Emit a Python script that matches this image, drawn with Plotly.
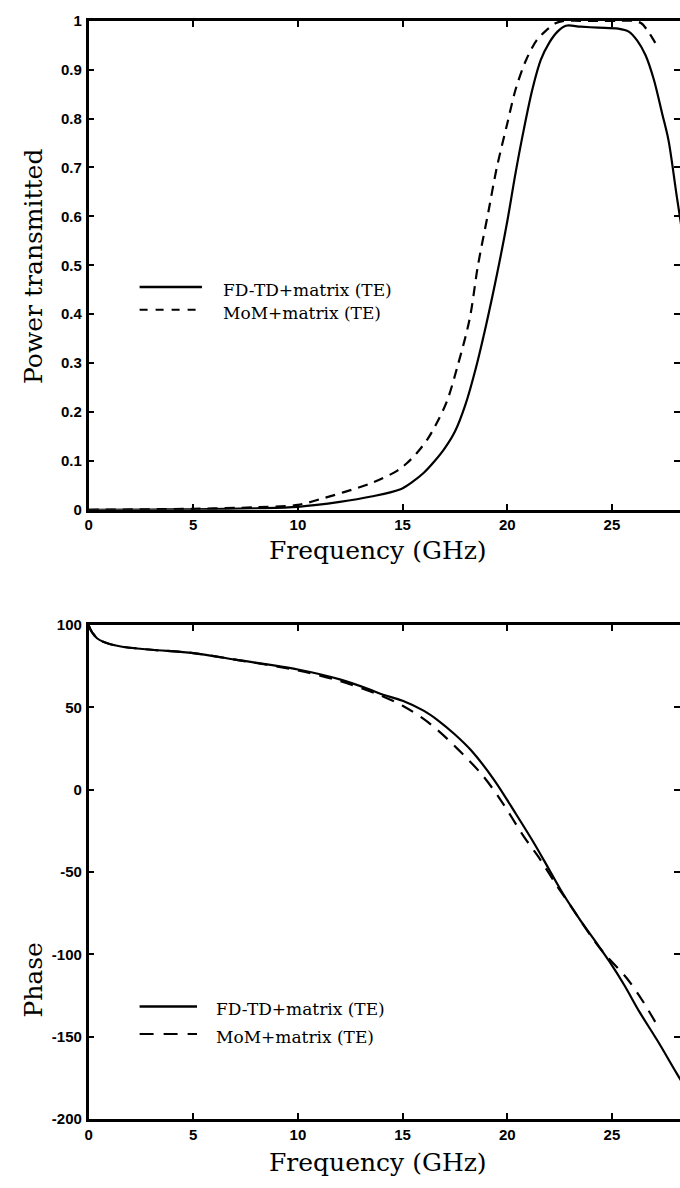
import plotly.graph_objects as go

# ---------------- data ----------------
# Top panel: power transmitted vs frequency (GHz)
fdtd_power_freq = [0, 3, 5, 8, 10, 12, 13.5, 14.9, 15.5, 16.0, 16.5, 17.0, 17.5, 18.0, 18.5,
                   19.0, 19.5, 20.0, 20.4, 20.8, 21.2, 21.6, 22.0, 22.4, 22.8, 23.5, 24.35,
                   25.3, 25.8, 26.2, 26.6, 27.0, 27.4, 27.7, 28.1, 28.6]
fdtd_power = [0, 0.0005, 0.001, 0.003, 0.006, 0.016, 0.027, 0.042, 0.058, 0.075, 0.098, 0.125,
              0.16, 0.215, 0.29, 0.38, 0.48, 0.59, 0.69, 0.78, 0.86, 0.92, 0.955, 0.978, 0.99,
              0.988, 0.986, 0.984, 0.978, 0.96, 0.93, 0.88, 0.81, 0.756, 0.64, 0.50]

mom_power_freq = [0, 5, 8, 10, 11.25, 12.2, 13.6, 14.75, 15.2, 15.7, 16.2, 16.6, 17.1, 17.6,
                  18.2, 18.6, 19.1, 19.5, 20.0, 20.4, 20.9, 21.4, 21.85, 22.3, 22.7, 23.5,
                  24.5, 25.3, 26.0, 26.4, 26.7, 27.0, 27.2]
mom_power = [0, 0.002, 0.005, 0.01, 0.024, 0.036, 0.056, 0.08, 0.095, 0.117, 0.145, 0.175,
             0.22, 0.29, 0.39, 0.50, 0.61, 0.70, 0.79, 0.86, 0.92, 0.96, 0.98, 0.995, 1.0,
             1.0, 1.0, 1.0, 1.0, 0.995, 0.98, 0.96, 0.945]

# Bottom panel: phase vs frequency (GHz)
fdtd_phase_freq = [0, 0.1, 0.2, 0.4, 0.7, 1.0, 1.6, 3, 5, 7, 10, 12, 13.4, 14, 15, 16, 16.7,
                   17.5, 18.3, 19.4, 20.4, 21.3, 22.0, 22.7, 23.5, 24.2, 24.9, 25.6, 26.3,
                   27.2, 28.1, 28.6]
fdtd_phase = [100, 97, 95, 92, 89.8, 88.5, 86.8, 85, 83, 79, 73, 67, 61, 58, 54, 48, 42,
              33.5, 23.5, 5.4, -14.5, -33, -48.5, -64, -79.5, -92, -104.8, -119, -134.7,
              -153, -172.5, -183]

mom_phase_freq = [0, 0.1, 0.2, 0.4, 0.7, 1.0, 1.6, 3, 5, 7, 10, 12, 13.4, 14, 15, 16, 16.7,
                  17.6, 18.8, 19.7, 20.8, 21.5, 22.3, 23.0, 24.0, 24.6, 25.7, 26.5, 27.2]
mom_phase = [100, 97, 95, 92, 89.8, 88.5, 86.8, 85, 83, 79, 72.5, 66, 60, 57, 51, 43, 35.9,
             25.1, 9, -6.6, -28.7, -41, -57, -70, -89, -99, -114.4, -129, -144]

power_ticks = [0, 0.1, 0.2, 0.3, 0.4, 0.5, 0.6, 0.7, 0.8, 0.9, 1]
power_ticktext = ["0", "0.1", "0.2", "0.3", "0.4", "0.5", "0.6", "0.7", "0.8", "0.9", "1"]
phase_ticks = [100, 50, 0, -50, -100, -150, -200]
phase_ticktext = ["100", "50", "0", "-50", "-100", "-150", "-200"]
freq_ticks = [0, 5, 10, 15, 20, 25]
freq_ticktext = ["0", "5", "10", "15", "20", "25"]

legend_labels = ["FD-TD+matrix (TE)", "MoM+matrix (TE)"]

# ---------------- figure ----------------
W, H = 683, 1188
fig = go.Figure()

LW = 2.2
DASH_TOP = "10px,7px"
DASH_BOT = "13px,9px"
SM = 0.9

fig.add_trace(go.Scatter(x=fdtd_power_freq, y=fdtd_power, mode="lines", line=dict(color="black", width=LW, shape="spline", smoothing=SM),
                         xaxis="x", yaxis="y", showlegend=False, name=legend_labels[0]))
fig.add_trace(go.Scatter(x=mom_power_freq, y=mom_power, mode="lines", line=dict(color="black", width=LW, dash=DASH_TOP, shape="spline", smoothing=SM),
                         xaxis="x", yaxis="y", showlegend=False, name=legend_labels[1]))
fig.add_trace(go.Scatter(x=fdtd_phase_freq, y=fdtd_phase, mode="lines", line=dict(color="black", width=LW, shape="spline", smoothing=SM),
                         xaxis="x2", yaxis="y2", showlegend=False, name=legend_labels[0]))
fig.add_trace(go.Scatter(x=mom_phase_freq, y=mom_phase, mode="lines", line=dict(color="black", width=LW, dash=DASH_BOT, shape="spline", smoothing=SM),
                         xaxis="x2", yaxis="y2", showlegend=False, name=legend_labels[1]))

def py(pix):
    return 1 - pix / H

def px(pix):
    return pix / W

x_left = 85.5
x_right = float(W)
xmax = (x_right - x_left) / 21.15

tickfont = dict(family="Liberation Sans, Arial, sans-serif", size=15, color="black", weight="bold")
axis_common = dict(showline=True, linecolor="black", linewidth=2.5, mirror="ticks",
                   ticks="inside", ticklen=6, tickwidth=2, tickcolor="black",
                   showgrid=False, zeroline=False, tickfont=tickfont)

fig.update_layout(
    width=W, height=H,
    margin=dict(l=0, r=0, t=0, b=0),
    paper_bgcolor="white", plot_bgcolor="white",
    showlegend=False,
    xaxis=dict(domain=[px(x_left), 1], range=[0, xmax], anchor="y",
               tickvals=freq_ticks, ticktext=freq_ticktext, **axis_common),
    yaxis=dict(domain=[py(508), py(12)], range=[0, 1], anchor="x",
               tickvals=power_ticks, ticktext=power_ticktext, ticklabelstandoff=1, **axis_common),
    xaxis2=dict(domain=[px(x_left), 1], range=[0, xmax], anchor="y2",
                tickvals=freq_ticks, ticktext=freq_ticktext, **axis_common),
    yaxis2=dict(domain=[py(1126), py(625)], range=[-200, 100], anchor="x2",
                tickvals=phase_ticks, ticktext=phase_ticktext, ticklabelstandoff=1, **axis_common),
)

serif = "DejaVu Serif, Liberation Serif, serif"
title_font = dict(family=serif, size=25, color="black")
ann = []
ann.append(dict(text="Frequency (GHz)", x=px(378), y=py(549), xref="paper", yref="paper",
                showarrow=False, font=title_font, xanchor="center", yanchor="middle"))
ann.append(dict(text="Frequency (GHz)", x=px(378), y=py(1170), xref="paper", yref="paper",
                showarrow=False, font=title_font, xanchor="center", yanchor="middle"))
ann.append(dict(text="Power transmitted", x=px(30), y=py(261), xref="paper", yref="paper",
                showarrow=False, font=title_font, textangle=-90, xanchor="center", yanchor="middle"))
ann.append(dict(text="Phase", x=px(30), y=py(985), xref="paper", yref="paper",
                showarrow=False, font=title_font, textangle=-90, xanchor="center", yanchor="middle"))

leg_font = dict(family=serif, size=17, color="black")
shapes = []
# legends (line samples + labels)
for (y1, y2, lx0, lx1, tx, dash2) in [(282, 305, 137, 200, 219, "8px,8px"), (1012, 1040, 137, 195, 212, "14px,10px")]:
    shapes.append(dict(type="line", xref="paper", yref="paper", x0=px(lx0), x1=px(lx1), y0=py(y1), y1=py(y1),
                       line=dict(color="black", width=2.5)))
    shapes.append(dict(type="line", xref="paper", yref="paper", x0=px(lx0), x1=px(lx1), y0=py(y2), y1=py(y2),
                       line=dict(color="black", width=2, dash=dash2)))
    ann.append(dict(text=legend_labels[0], x=px(tx), y=py(y1 + 3), xref="paper", yref="paper", showarrow=False,
                    font=leg_font, xanchor="left", yanchor="middle"))
    ann.append(dict(text=legend_labels[1], x=px(tx), y=py(y2 + 3), xref="paper", yref="paper", showarrow=False,
                    font=leg_font, xanchor="left", yanchor="middle"))

fig.update_layout(annotations=ann, shapes=shapes)

fig.write_html("out.html", config={"displayModeBar": False},
               post_script="document.body.style.margin='0';document.body.style.overflow='hidden';")
